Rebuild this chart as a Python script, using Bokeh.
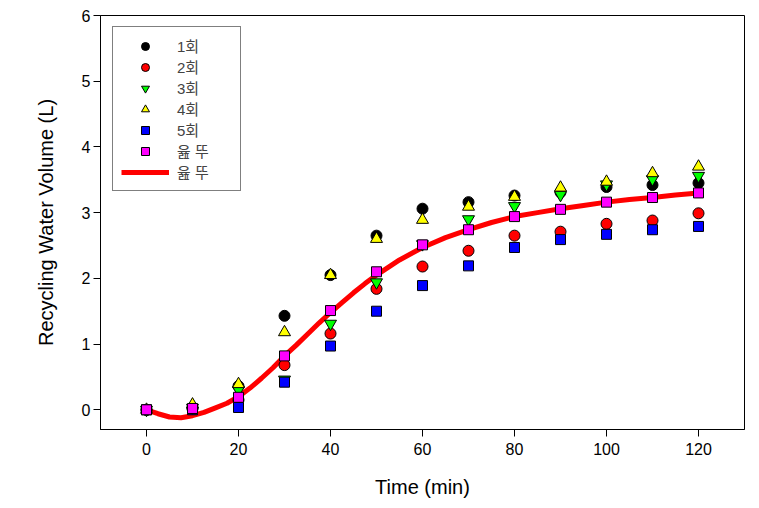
from bokeh.plotting import figure
from bokeh.models import Range1d, FixedTicker, Legend, LegendItem
from bokeh.embed import file_html
from bokeh.resources import INLINE

time = [0, 10, 20, 30, 40, 50, 60, 70, 80, 90, 100, 110, 120]
run1 = [0.0, 0.03, 0.36, 1.43, 2.05, 2.65, 3.06, 3.16, 3.26, 3.31, 3.39, 3.42, 3.45]
run2 = [0.0, 0.02, 0.15, 0.68, 1.16, 1.84, 2.18, 2.42, 2.65, 2.71, 2.83, 2.88, 2.99]
run3 = [0.0, 0.03, 0.30, 0.46, 1.31, 1.94, 2.52, 2.90, 3.10, 3.27, 3.43, 3.51, 3.56]
run4 = [0.0, 0.08, 0.39, 1.18, 2.05, 2.60, 2.89, 3.09, 3.24, 3.38, 3.47, 3.60, 3.70]
run5 = [0.0, 0.0, 0.035, 0.42, 0.97, 1.50, 1.89, 2.19, 2.47, 2.59, 2.67, 2.74, 2.79]
mean = [0.0, 0.02, 0.19, 0.82, 1.51, 2.10, 2.51, 2.74, 2.94, 3.05, 3.16, 3.23, 3.30]

curve_t = [0, 2.5, 5, 7.5, 10, 12.5, 15, 17.5, 20, 22.5, 25, 27.5, 30, 32.5, 35, 37.5,
           40, 42.5, 45, 47.5, 50, 55, 60, 65, 70, 75, 80, 85, 90, 95, 100, 105, 110, 115, 120]
curve_v = [0.0, -0.06, -0.11, -0.12, -0.09, -0.04, 0.03, 0.10, 0.20, 0.33, 0.48, 0.64,
           0.82, 0.98, 1.15, 1.32, 1.48, 1.63, 1.78, 1.92, 2.05, 2.28, 2.47, 2.62, 2.74,
           2.85, 2.94, 3.00, 3.06, 3.11, 3.16, 3.20, 3.23, 3.27, 3.30]

labels = ["1회", "2회", "3회", "4회", "5회", "윮 뚜", "윮 뚜"]
x_ticks = [0, 20, 40, 60, 80, 100, 120]
y_ticks = [0, 1, 2, 3, 4, 5, 6]

FONT = "'Liberation Sans', Arial, 'Noto Sans CJK KR'"

p = figure(width=755, height=500, output_backend="svg", toolbar_location=None,
           x_range=Range1d(-10, 130), y_range=Range1d(-0.3, 6),
           min_border_left=100, min_border_right=11, min_border_top=15, min_border_bottom=71)
p.grid.visible = False
p.outline_line_color = "black"
p.outline_line_width = 1
p.background_fill_color = "white"
p.border_fill_color = "white"

for ax in (p.xaxis[0], p.yaxis[0]):
    ax.axis_line_color = "black"
    ax.major_tick_line_color = "black"
    ax.major_tick_out = 7
    ax.major_tick_in = 0
    ax.minor_tick_line_color = None
    ax.major_label_text_font = FONT
    ax.major_label_text_font_size = "16px"
    ax.major_label_text_color = "black"
    ax.axis_label_text_font = FONT
    ax.axis_label_text_font_style = "normal"
    ax.axis_label_text_font_size = "20px"
    ax.axis_label_text_color = "black"

p.xaxis.ticker = FixedTicker(ticks=x_ticks)
p.yaxis.ticker = FixedTicker(ticks=y_ticks)
p.xaxis.axis_label = "Time (min)"
p.yaxis.axis_label = "Recycling Water Volume (L)"
p.xaxis.major_label_standoff = 6
p.yaxis.major_label_standoff = 3
p.xaxis.axis_label_standoff = 18
p.yaxis.axis_label_standoff = 22

line_r = p.line(curve_t, curve_v, line_color="red", line_width=5)
r1 = p.scatter(time, run1, marker="circle", size=11, fill_color="black", line_color="black")
r2 = p.scatter(time, run2, marker="circle", size=11, fill_color="red", line_color="black")
r3 = p.scatter(time, run3, marker="inverted_triangle", size=12, fill_color="lime", line_color="black")
r4 = p.scatter(time, run4, marker="triangle", size=12, fill_color="yellow", line_color="black")
r5 = p.scatter(time, run5, marker="square", size=10, fill_color="blue", line_color="black")
r6 = p.scatter(time, mean, marker="square", size=10, fill_color="magenta", line_color="black")

renderers = [r1, r2, r3, r4, r5, r6, line_r]
legend = Legend(items=[LegendItem(label=lab, renderers=[r]) for lab, r in zip(labels, renderers)],
                location=(12, 238))
legend.border_line_color = "black"
legend.border_line_width = 1
legend.background_fill_alpha = 1
legend.label_text_font = FONT
legend.label_text_font_size = "15px"
legend.label_text_line_height = 1.0
legend.glyph_width = 48
legend.glyph_height = 20
legend.label_height = 20
legend.label_width = 55
legend.spacing = 0
legend.padding = 8
legend.margin = 0
legend.label_standoff = 8
p.add_layout(legend, "center")

open("out.html", "w").write(file_html(p, INLINE))
